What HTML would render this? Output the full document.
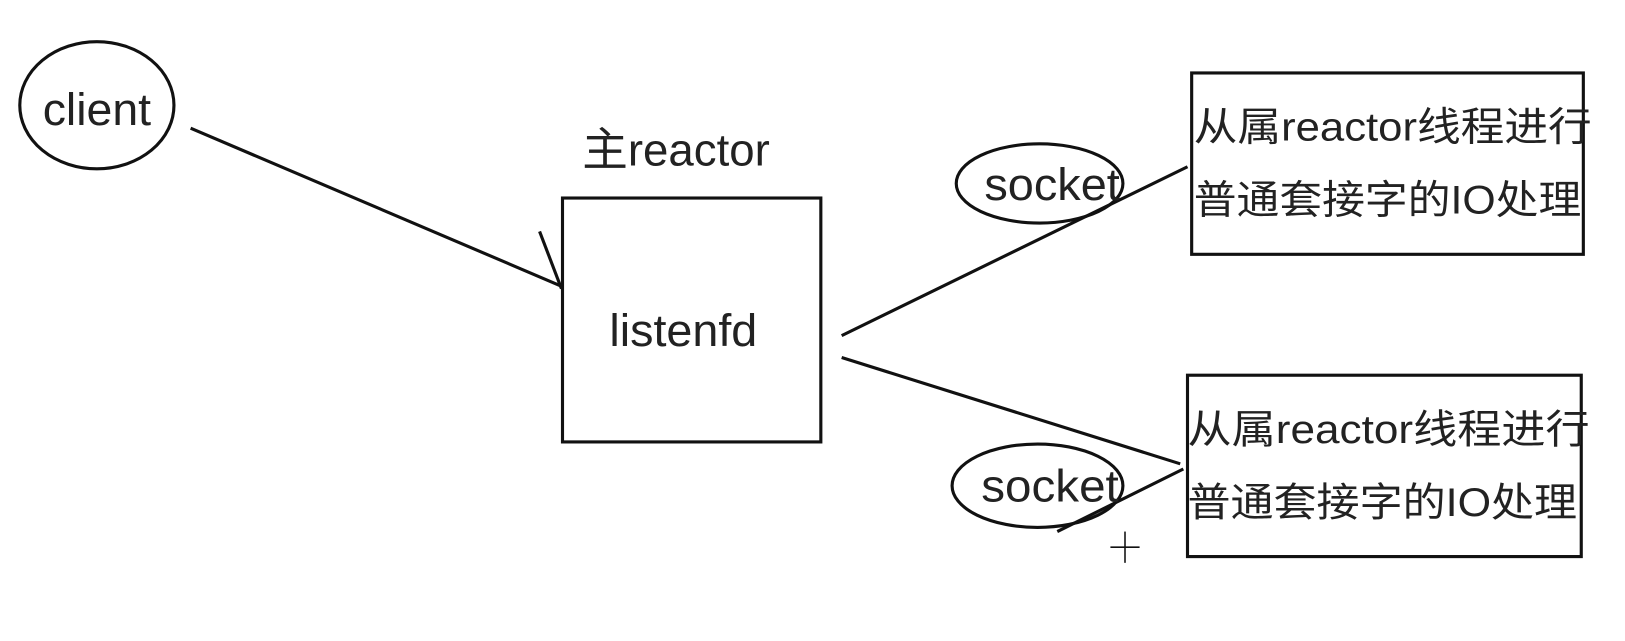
<!DOCTYPE html>
<html><head><meta charset="utf-8"><style>html,body{margin:0;padding:0;background:#fff}svg{display:block}</style></head>
<body>
<svg width="1625" height="641" viewBox="0 0 1560 615" preserveAspectRatio="none" xmlns="http://www.w3.org/2000/svg" font-family="Liberation Sans, Noto Sans CJK SC, sans-serif" fill="#222">
<rect width="1560" height="615" fill="#fff"/>
<g fill="none" stroke="#111" stroke-width="3">
<ellipse cx="93" cy="101" rx="74" ry="61"/>
<line x1="183" y1="123" x2="540" y2="275"/>
<line x1="518" y1="222" x2="539" y2="277"/>
<rect x="540" y="190" width="248" height="234"/>
<line x1="808" y1="322" x2="1140" y2="160"/>
<ellipse cx="998" cy="176" rx="80" ry="38"/>
<rect x="1144" y="70" width="376" height="174"/>
<line x1="808" y1="343" x2="1133" y2="445"/>
<line x1="1136" y1="450" x2="1015" y2="510"/>
<ellipse cx="996" cy="466" rx="82" ry="40"/>
<rect x="1140" y="360" width="378" height="174"/>
<g stroke-width="1.5"><line x1="1080" y1="510" x2="1080" y2="540"/><line x1="1066" y1="525" x2="1094" y2="525"/></g>
</g>
<g font-size="44">
<text x="93" y="120" text-anchor="middle" textLength="104" lengthAdjust="spacingAndGlyphs">client</text>
<text x="559" y="159" textLength="180" lengthAdjust="spacingAndGlyphs">主reactor</text>
<text x="656" y="332" text-anchor="middle" textLength="142" lengthAdjust="spacingAndGlyphs">listenfd</text>
<text x="1010" y="192" text-anchor="middle" textLength="130" lengthAdjust="spacingAndGlyphs">socket</text>
<text x="1008" y="481" text-anchor="middle" textLength="132" lengthAdjust="spacingAndGlyphs">socket</text>
</g>
<g font-size="38">
<text x="1146" y="135" textLength="382" lengthAdjust="spacingAndGlyphs">从属reactor线程进行</text>
<text x="1146" y="205" textLength="372" lengthAdjust="spacingAndGlyphs">普通套接字的IO处理</text>
<text x="1140" y="425" textLength="386" lengthAdjust="spacingAndGlyphs">从属reactor线程进行</text>
<text x="1140" y="495" textLength="374" lengthAdjust="spacingAndGlyphs">普通套接字的IO处理</text>
</g>
</svg>
</body></html>
